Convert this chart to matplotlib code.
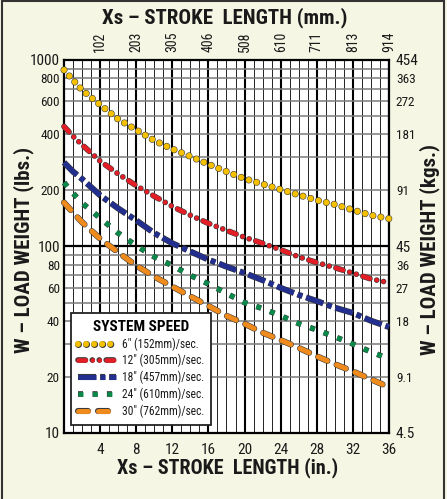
import matplotlib
matplotlib.use("Agg")
import matplotlib.pyplot as plt
import matplotlib.patheffects as pe
from matplotlib import font_manager as fm
from matplotlib.ticker import FixedLocator, MultipleLocator, LogLocator, NullFormatter
from matplotlib.patches import Rectangle

# pick a condensed face if one is around
fonts = fm.fontManager.ttflist
names = {f.name for f in fonts}
narrow = None
for n in ['Liberation Sans Narrow', 'Roboto Condensed', 'Open Sans Condensed', 'Noto Sans Condensed']:
    if n in names:
        narrow = n
        break
if narrow:
    plt.rcParams['font.family'] = [narrow, 'DejaVu Sans']
    scale = 1.0
elif any(f.name == 'DejaVu Sans' and f.stretch == 'condensed' for f in fonts):
    plt.rcParams['font.family'] = ['DejaVu Sans']
    plt.rcParams['font.stretch'] = 'condensed'
    scale = 0.92
else:
    plt.rcParams['font.family'] = ['Liberation Sans', 'DejaVu Sans']
    scale = 0.85
plt.rcParams['lines.scale_dashes'] = False

# stroke length (in.)
stroke = [0, 1, 2, 4, 6, 8, 10, 12, 14, 16, 18, 20, 22, 24, 26, 28, 30, 32, 34, 36]

# load weight (lbs.) per system speed
w_6 = [884, 780, 690, 575, 481, 422, 370, 333, 304, 276, 252, 231, 216, 202, 189, 177, 168, 157, 147, 141]
w_12 = [440, 390, 351, 287, 245, 212, 186, 164, 147, 133, 122, 112, 104, 96, 88, 82, 77, 72, 67, 64]
w_18 = [282, 252, 230, 188, 160, 138, 118, 104, 94, 85, 78, 72, 66, 60, 55, 51, 47, 44, 40, 37]
w_24 = [220, 193, 171, 142, 118, 101, 88, 79, 70, 63, 56, 50, 46.5, 42.5, 38.6, 35.7, 32.8, 30, 27.2, 25]
w_30 = [172, 152, 135, 110, 93, 79, 69, 61, 54, 48, 42.5, 38.5, 34.5, 31.5, 28.6, 25.8, 23.4, 21.4, 19.4, 17.6]

labels = ['6" (152mm)/sec.', '12" (305mm)/sec.', '18" (457mm)/sec.',
          '24" (610mm)/sec.', '30" (762mm)/sec.']

in_ticks = [4, 8, 12, 16, 20, 24, 28, 32, 36]
mm_labels = ['102', '203', '305', '406', '508', '610', '711', '813', '914']
lbs_ticks = [10, 20, 40, 60, 80, 100, 200, 400, 600, 800, 1000]
lbs_labels = ['10', '20', '40', '60', '80', '100', '200', '400', '600', '800', '1000']
kg_labels = ['4.5', '9.1', '18', '27', '36', '45', '91', '181', '272', '363', '454']

bg = '#f6f6e4'
txt = '#1a1a1a'
fig = plt.figure(figsize=(4.47, 4.99), dpi=100, facecolor=bg)
ax = fig.add_axes([0.1432, 0.1323, 0.727, 0.7475])
ax.set_facecolor('white')
ax.set_yscale('log')
ax.set_xlim(0, 36)
ax.set_ylim(10, 1000)

# grid
ax.yaxis.remove_overlapping_locs = False
ax.xaxis.set_major_locator(FixedLocator(in_ticks))
ax.xaxis.set_minor_locator(MultipleLocator(1))
ax.yaxis.set_major_locator(FixedLocator(lbs_ticks))
ax.yaxis.set_minor_locator(LogLocator(base=10, subs=range(1, 10), numticks=20))
ax.yaxis.set_minor_formatter(NullFormatter())
ax.set_xticklabels([str(t) for t in in_ticks])
ax.set_yticklabels(lbs_labels)
ax.grid(which='major', axis='x', color='black', lw=1.5, zorder=1)
ax.grid(which='minor', axis='x', color='#222222', lw=0.7, zorder=1)
ax.grid(which='minor', axis='y', color='#7a7a7a', lw=1.1, zorder=1)
ax.grid(which='major', axis='y', visible=False)
ax.axhline(100, color='black', lw=1.6, zorder=1)
ax.set_axisbelow(True)
for s in ax.spines.values():
    s.set_linewidth(1.6)
ax.tick_params(which='both', length=0, labelcolor=txt)
ax.tick_params(axis='x', labelsize=11 * scale, pad=7)
ax.tick_params(axis='y', labelsize=9.5 * scale, pad=3)
for t in ax.get_yticklabels():
    if t.get_text() in ('1000', '100', '10'):
        t.set_fontsize(11 * scale)

# top mm axis
axt = ax.twiny()
axt.set_xlim(0, 36)
axt.set_xticks(in_ticks)
axt.set_xticklabels(mm_labels, rotation=90)
axt.tick_params(length=0, labelsize=10 * scale, pad=6, labelcolor=txt)
axt.xaxis.set_minor_locator(FixedLocator([]))

# right kg axis
axr = ax.twinx()
axr.set_yscale('log')
axr.set_ylim(10, 1000)
axr.yaxis.set_major_locator(FixedLocator(lbs_ticks))
axr.yaxis.set_minor_locator(FixedLocator([]))
axr.set_yticklabels(kg_labels)
axr.tick_params(length=0, labelsize=9.5 * scale, pad=5, labelcolor=txt)
for t in axr.get_yticklabels():
    if t.get_text() in ('454', '45', '4.5'):
        t.set_fontsize(11 * scale)
for a in (axt, axr):
    for s in a.spines.values():
        s.set_visible(False)

edge = '#3a3a3a'
styles = [
    (w_6, '#f5c000', 4.3, (0, (0.01, 5.8)), 'round'),
    (w_12, '#e41e26', 3.3, (0, (5.3, 5.0, 0.01, 5.0, 0.01, 5.0)), 'round'),
    (w_18, '#232f8e', 3.6, (0, (13, 2.9, 3.6, 2.9)), 'butt'),
    (w_24, '#0a8a4a', 3.3, (0, (3.6, 6.8)), 'butt'),
    (w_30, '#ef8a1c', 3.6, (0, (7.2, 7.2)), 'round'),
]
for (w, c, lw, ls, cap), lab in zip(styles, labels):
    ax.plot(stroke, w, color=c, lw=lw, linestyle=ls, dash_capstyle=cap,
            label=lab, zorder=3, clip_on=False,
            path_effects=[pe.Stroke(linewidth=lw + 0.8, foreground=edge), pe.Normal()])

leg = ax.legend(loc='lower left', bbox_to_anchor=(0.0215, 0.0214), fontsize=8.3 * scale,
                title='SYSTEM SPEED',
                title_fontproperties={'weight': 'bold', 'size': 11 * scale},
                frameon=True, fancybox=False, framealpha=1, edgecolor='#222222',
                handlelength=3.3, handletextpad=0.5, labelspacing=0.3,
                borderpad=0.6, borderaxespad=0)
leg.get_frame().set_linewidth(1.3)
leg.set_zorder(5)
for t in leg.get_texts():
    t.set_color(txt)

fig.text(0.503, 0.964, 'Xs – STROKE  LENGTH (mm.)', ha='center', va='center',
         fontsize=15 * scale, fontweight='bold', color=txt)
fig.text(0.51, 0.063, 'Xs – STROKE  LENGTH (in.)', ha='center', va='center',
         fontsize=14.5 * scale, fontweight='bold', color=txt)
fig.text(0.052, 0.5, 'W – LOAD WEIGHT (lbs.)', ha='center', va='center', rotation=90,
         fontsize=15 * scale, fontweight='bold', color=txt)
fig.text(0.962, 0.5, 'W – LOAD WEIGHT (kgs.)', ha='center', va='center', rotation=90,
         fontsize=15 * scale, fontweight='bold', color=txt)

fig.patches.append(Rectangle((0.004, -0.01), 0.99, 1.007, transform=fig.transFigure,
                             fill=False, edgecolor='#333333', lw=1.5))

fig.savefig('out.png', dpi=100, facecolor=bg)
